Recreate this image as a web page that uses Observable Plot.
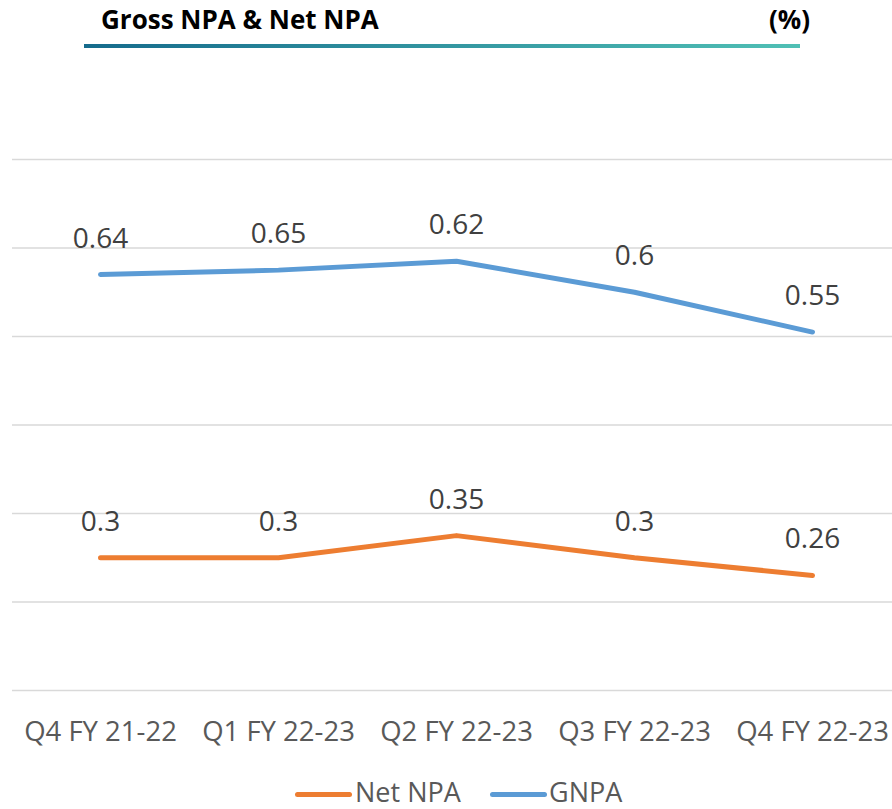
<!DOCTYPE html>
<html>
<head>
<meta charset="utf-8">
<script src="https://cdn.jsdelivr.net/npm/d3@7"></script>
<script src="https://cdn.jsdelivr.net/npm/@observablehq/plot@0.6"></script>
<style>
  html, body { margin: 0; padding: 0; background: #fff; }
  #wrap { position: relative; width: 892px; height: 809px; overflow: hidden; font-family: "Open Sans", sans-serif; }
  #header { position: relative; height: 60px; }
  .title { position: absolute; top: 0; font-weight: 700; font-size: 26px; line-height: normal; color: #000; white-space: nowrap; }
  #rule { position: absolute; left: 84px; top: 44px; width: 716px; height: 4px; background: linear-gradient(to right, #156b8c, #50c0b5); }
  #chart { position: absolute; left: 0; top: 60px; }
  .leg { position: absolute; font-size: 27px; line-height: 27px; height: 27px; color: #595959; white-space: nowrap; }
  .sw { position: absolute; height: 5px; border-radius: 3px; top: 792px; }
</style>
</head>
<body>
<div id="wrap">
  <div id="header">
    <div class="title" style="left:101px; top:1px;">Gross NPA &amp; Net NPA</div>
    <div class="title" style="left:769px; top:1px;">(%)</div>
    <div id="rule"></div>
  </div>
  <div id="chart"></div>
  <div class="sw" style="left:295px; width:57px; background:#ED7D31;"></div>
  <div class="leg" style="left:355px; top:778px;">Net NPA</div>
  <div class="sw" style="left:490px; width:57px; background:#5B9BD5;"></div>
  <div class="leg" style="left:549px; top:778px;">GNPA</div>
</div>
<script>
const quarters = ["Q4 FY 21-22", "Q1 FY 22-23", "Q2 FY 22-23", "Q3 FY 22-23", "Q4 FY 22-23"];
const seriesNames = ["Net NPA", "GNPA"];
const netNPA = [0.3, 0.3, 0.35, 0.3, 0.26];
const gnpa = [0.64, 0.65, 0.62, 0.6, 0.55];
const yTicks = [0, 0.2, 0.4, 0.6, 0.8, 1.0, 1.2];
const colors = ["#ED7D31", "#5B9BD5"];

const rows = [];
quarters.forEach((q, i) => rows.push({quarter: q, series: seriesNames[0], value: netNPA[i]}));
quarters.forEach((q, i) => rows.push({quarter: q, series: seriesNames[1], value: gnpa[i]}));

const stackOpts = {x: "quarter", y: "value", z: "series"};

const chart = Plot.plot({
  width: 892,
  height: 700,
  marginTop: 99,
  marginBottom: 70,
  marginLeft: 12,
  marginRight: 0,
  style: {fontFamily: "'Open Sans', sans-serif", background: "transparent", overflow: "visible"},
  x: {type: "point", domain: quarters, range: [100, 812], padding: 0, label: null},
  y: {domain: [0, 1.2], axis: null},
  color: {domain: seriesNames, range: colors},
  marks: [
    Plot.ruleY(yTicks, {stroke: "#d9d9d9", strokeWidth: 1.5}),
    Plot.lineY(rows, Plot.stackY2({...stackOpts, stroke: "series", strokeWidth: 5, strokeLinecap: "round", strokeLinejoin: "round"})),
    Plot.text(rows, Plot.stackY2({...stackOpts, text: d => String(d.value), dy: -36, fontSize: 28, fill: "#404040"})),
    Plot.axisX({tickSize: 0, tickPadding: 0, fontSize: 27.5, color: "#595959", label: null, dy: 31})
  ]
});
document.getElementById("chart").appendChild(chart);
</script>
</body>
</html>
